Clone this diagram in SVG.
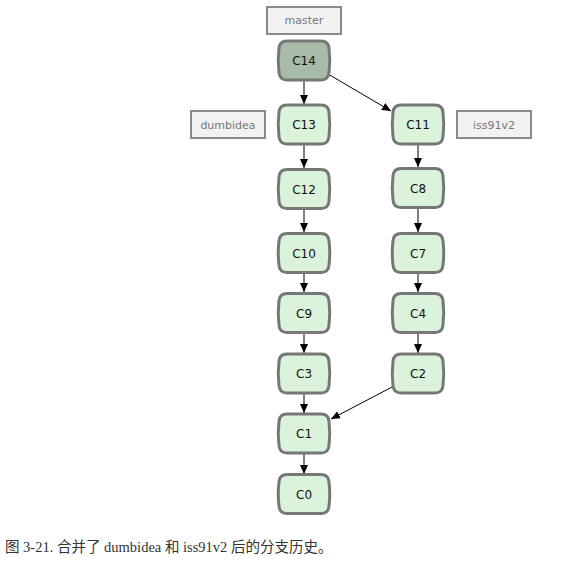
<svg xmlns="http://www.w3.org/2000/svg" width="569" height="566" viewBox="0 0 569 566">
<style>
.node use{fill:#dbf3db;stroke:#777;stroke-width:3}
.node.head use{fill:#a7bba8}
.node text{font-family:"DejaVu Sans",sans-serif;font-size:12px;fill:#111;text-anchor:middle}
.ref rect{fill:#f2f2f2;stroke:#8a8a8a;stroke-width:2}
.ref text{font-family:"DejaVu Sans",sans-serif;font-size:11px;fill:#777;text-anchor:middle}
.edges line{stroke:#000;stroke-width:1;marker-end:url(#ah)}
.cap{font-family:"Liberation Serif","Noto Sans CJK SC",serif;font-size:14.5px;fill:#333}
</style>
<defs>
<path id="shape" d="M -17 -19.5 H 17 Q 24.5 -19.5 25 -12 Q 26.5 0 25 12 Q 24.5 19.5 17 19.5 H -17 Q -24.5 19.5 -25 12 Q -26.5 0 -25 -12 Q -24.5 -19.5 -17 -19.5 Z"/>
<marker id="ah" markerWidth="10" markerHeight="8" refX="9" refY="4" orient="auto" markerUnits="userSpaceOnUse">
<path d="M0,0 L9,4 L0,8 Z" fill="#000"/>
</marker>
</defs>
<g class="edges">
<line x1="304" y1="81" x2="304" y2="104"/>
<line x1="328" y1="74" x2="391" y2="111"/>
<line x1="304" y1="145" x2="304" y2="168"/>
<line x1="304" y1="209" x2="304" y2="232"/>
<line x1="304" y1="273" x2="304" y2="292"/>
<line x1="304" y1="334" x2="304" y2="353"/>
<line x1="304" y1="394" x2="304" y2="413"/>
<line x1="304" y1="454" x2="304" y2="474"/>
<line x1="418" y1="145" x2="418" y2="167"/>
<line x1="418" y1="209" x2="418" y2="232"/>
<line x1="418" y1="274" x2="418" y2="292"/>
<line x1="418" y1="334" x2="418" y2="353"/>
<line x1="394" y1="386" x2="331" y2="419"/>
</g>
<g id="ref-master" class="ref"><rect x="267" y="7" width="74" height="27"/><text x="304" y="24">master</text></g>
<g id="ref-dumbidea" class="ref"><rect x="191" y="111" width="74" height="27"/><text x="228" y="128.5">dumbidea</text></g>
<g id="ref-iss91v2" class="ref"><rect x="457" y="111" width="74" height="27"/><text x="494" y="128.5">iss91v2</text></g>
<g id="C14" class="node head" transform="translate(304,60.5)"><use href="#shape"/><text y="4.5">C14</text></g>
<g id="C13" class="node" transform="translate(304,124.5)"><use href="#shape"/><text y="4.5">C13</text></g>
<g id="C12" class="node" transform="translate(304,189)"><use href="#shape"/><text y="4.5">C12</text></g>
<g id="C10" class="node" transform="translate(304,253)"><use href="#shape"/><text y="4.5">C10</text></g>
<g id="C9" class="node" transform="translate(304,313)"><use href="#shape"/><text y="4.5">C9</text></g>
<g id="C3" class="node" transform="translate(304,373.5)"><use href="#shape"/><text y="4.5">C3</text></g>
<g id="C1" class="node" transform="translate(304,433.5)"><use href="#shape"/><text y="4.5">C1</text></g>
<g id="C0" class="node" transform="translate(304,494)"><use href="#shape"/><text y="4.5">C0</text></g>
<g id="C11" class="node" transform="translate(418,124.5)"><use href="#shape"/><text y="4.5">C11</text></g>
<g id="C8" class="node" transform="translate(418,188)"><use href="#shape"/><text y="4.5">C8</text></g>
<g id="C7" class="node" transform="translate(418,253)"><use href="#shape"/><text y="4.5">C7</text></g>
<g id="C4" class="node" transform="translate(418,313)"><use href="#shape"/><text y="4.5">C4</text></g>
<g id="C2" class="node" transform="translate(418,373.5)"><use href="#shape"/><text y="4.5">C2</text></g>
<text class="cap" x="5" y="552">图 3-21. 合并了 dumbidea 和 iss91v2 后的分支历史。</text>
</svg>
